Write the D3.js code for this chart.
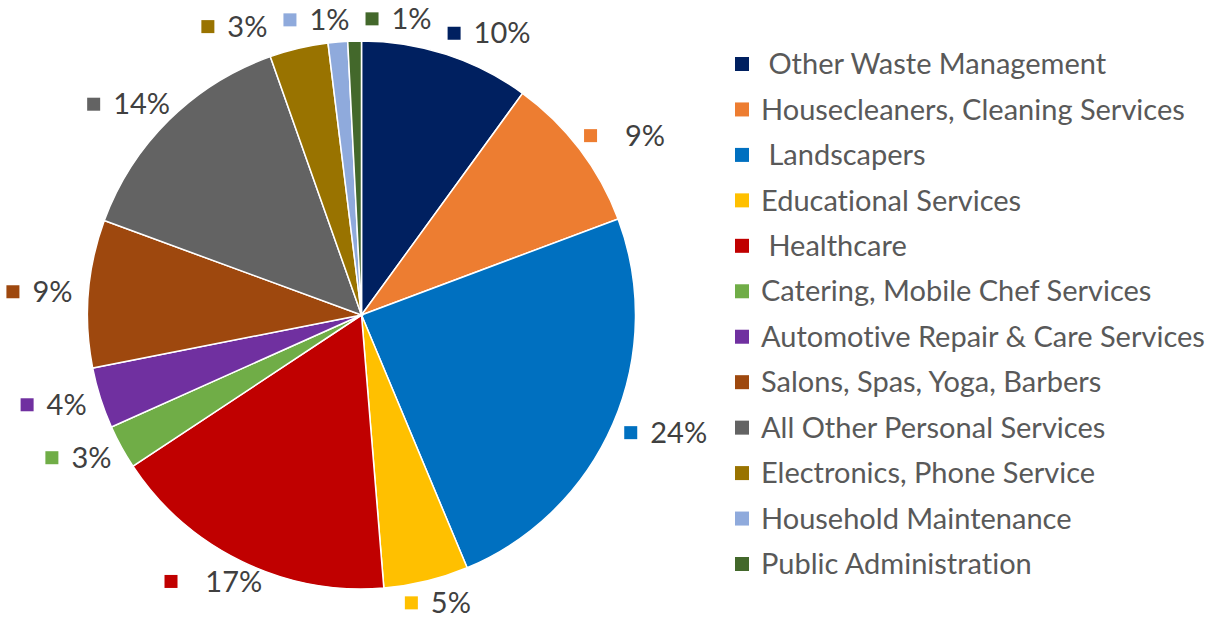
<!DOCTYPE html>
<html><head><meta charset="utf-8">
<script src="https://cdn.jsdelivr.net/npm/d3@7"></script>
<style>
body{margin:0;background:#fff;}
svg text{font-family:Lato,"Open Sans",sans-serif;white-space:pre;font-variant-ligatures:none;font-feature-settings:"liga" 0,"clig" 0;}
</style>
</head><body><svg id="chart" width="1215" height="626"></svg>
<script>
const categories = [" Other Waste Management","Housecleaners, Cleaning Services"," Landscapers","Educational Services"," Healthcare","Catering, Mobile Chef Services","Automotive Repair & Care Services","Salons, Spas, Yoga, Barbers","All Other Personal Services","Electronics, Phone Service","Household Maintenance","Public Administration"];
const values = [10.0, 9.3, 24.4, 5.0, 17.0, 2.6, 3.6, 8.7, 14.0, 3.45, 1.15, 0.8];
const valueLabels = ["10%","  9%","24%","5%","  17%","3%","4%","9%","14%","3%","1%","1%"];
const colors = ["#002060","#ED7D31","#0070C0","#FFC000","#C00000","#70AD47","#7030A0","#9E480E","#636363","#997300","#8FAADC","#43682B"];

const svg = d3.select("#chart");
const cx = 361.5, cy = 315, r = 274;

// font fitting to match reference text widths
const probe = svg.append("text").attr("font-size", 28).text("Automotive Repair & Care Services");
const fs = 28 * 444 / probe.node().getComputedTextLength();
probe.remove();

const data = categories.map((c,i)=>({name:c, value:values[i], label:valueLabels[i], color:colors[i]}));
const pie = d3.pie().value(d=>d.value).sort(null);
const arcs = pie(data);
const arc = d3.arc().innerRadius(0).outerRadius(r);

const g = svg.append("g").attr("transform",`translate(${cx},${cy})`);
g.selectAll("path").data(arcs).join("path")
  .attr("d", arc).attr("fill", d=>d.data.color)
  .attr("stroke","#fff").attr("stroke-width",1.5);

// labels
const sq = 13, gap = 13, h = 25;
const lg = g.selectAll("g.lbl").data(arcs).join("g").attr("class","lbl");
lg.append("rect").attr("x",0).attr("y",-sq/2).attr("width",sq).attr("height",sq).attr("fill",d=>d.data.color);
lg.append("text").attr("x",sq+gap).attr("dy","0.35em").attr("font-size",fs).attr("fill","#404040").text(d=>d.data.label);

const R = r + 16;
const boxes = [];
lg.each(function(d){
  const th = (d.startAngle+d.endAngle)/2;
  const w = this.getBBox().width;
  const px = R*Math.sin(th), py = -R*Math.cos(th);
  boxes.push({node:this, th, w, h, cx: px + w/2*Math.sin(th), cy: py - 0.25*h*Math.cos(th)});
});
const padX = 16, padY = 3;
for (let it=0; it<400; it++){
  for (let i=0;i<boxes.length;i++) for (let j=i+1;j<boxes.length;j++){
    const a=boxes[i], b=boxes[j];
    const ox = (a.w+b.w)/2 + padX - Math.abs(a.cx-b.cx);
    const oy = (a.h+b.h)/2 + padY - Math.abs(a.cy-b.cy);
    if (ox>0 && oy>0){
      const vertical = Math.abs(Math.cos(a.th))>0.8 && Math.abs(Math.cos(b.th))>0.8;
      if (vertical || ox<oy){ const s=(a.cx<b.cx?-1:1)*ox/2; a.cx+=s; b.cx-=s; }
      else { const s=(a.cy<b.cy?-1:1)*oy/2; a.cy+=s; b.cy-=s; }
    }
  }
}
boxes.forEach(b=>d3.select(b.node).attr("transform",`translate(${b.cx-b.w/2},${b.cy})`));

// legend
const ly = d3.scalePoint().domain(categories).range([64,564]);
const leg = svg.append("g").selectAll("g").data(data).join("g")
  .attr("transform", d=>`translate(735,${ly(d.name)})`);
leg.append("rect").attr("x",0).attr("y",-7).attr("width",14).attr("height",14).attr("fill",d=>d.color);
leg.append("text").attr("x",26).attr("dy","0.35em").attr("font-size",fs).attr("fill","#595959").text(d=>d.name);
</script>
</body></html>
